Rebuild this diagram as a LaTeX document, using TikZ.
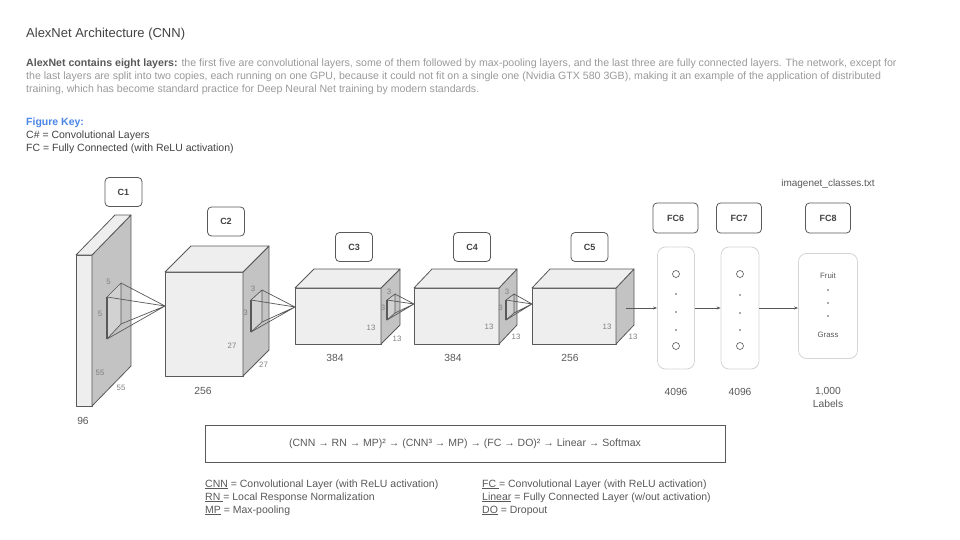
\documentclass[tikz,border=0pt]{standalone}
\usepackage{fontspec}
\setmainfont{Liberation Sans}
\usetikzlibrary{arrows.meta}
\definecolor{ink}{HTML}{434343}
\definecolor{edge}{HTML}{595959}
\definecolor{faint}{HTML}{9A9A9A}
\definecolor{keyblue}{HTML}{4A86E8}
\definecolor{face}{HTML}{EEEEEE}
\definecolor{side}{HTML}{C3C3C3}
\definecolor{rim}{HTML}{D5D5D5}
\begin{document}
\begin{tikzpicture}[x=1pt,y=-1pt,
  txt/.style={inner sep=0pt, anchor=base west, text=ink, font=\fontsize{10.5}{13}\selectfont},
  layerbox/.style={draw=edge, line width=0.8pt, rounded corners=4pt, minimum width=37pt, minimum height=29pt, inner sep=0pt, text=ink, font=\bfseries\fontsize{9}{10}\selectfont},
  fcbox/.style={layerbox, minimum width=45pt, minimum height=30pt},
  column/.style={draw=rim, line width=0.8pt, rounded corners=8pt, inner sep=0pt},
  blk/.style={draw=edge, line width=0.8pt, line join=round},
  kern/.style={draw=edge, line width=0.7pt, line join=round},
  dim/.style={inner sep=0pt, text=gray, font=\fontsize{7.8}{8}\selectfont},
  count/.style={inner sep=0pt, text=edge, font=\fontsize{10.3}{13}\selectfont, align=center},
  unit/.style={circle, draw=edge, line width=0.6pt, minimum size=7pt, inner sep=0pt},
  dot/.style={circle, fill=edge, minimum size=1.6pt, inner sep=0pt},
  arr/.style={draw=edge, line width=0.7pt, -{Stealth[length=4pt,width=3pt]}}
]
\useasboundingbox (0,0) rectangle (960,540);
\fill[white] (0,0) rectangle (960,540);

% header text
\node[txt, font=\fontsize{13}{15}\selectfont] (title) at (26,38) {AlexNet Architecture (CNN)};
\node[txt, text=faint, anchor=north west, align=left, font=\fontsize{10.6}{13}\selectfont] (intro) at (26,59) {\textcolor{edge}{\bfseries AlexNet contains eight layers:} the first five are convolutional layers, some of them followed by max-pooling layers, and the last three are fully connected layers. The network, except for\\
the last layers are split into two copies, each running on one GPU, because it could not fit on a single one (Nvidia GTX 580 3GB), making it an example of the application of distributed\\
training, which has become standard practice for Deep Neural Net training by modern standards.};
\node[txt, text=keyblue, font=\bfseries\fontsize{10.5}{13}\selectfont] (keyhead) at (26,126) {Figure Key:};
\node[txt] (key1) at (26,139) {C\# = Convolutional Layers};
\node[txt] (key2) at (26,152) {FC = Fully Connected (with ReLU activation)};

% layer tags
\node[layerbox] (c1) at (123.5,192) {C1};
\node[layerbox] (c2) at (226,221.5) {C2};
\node[layerbox] (c3) at (354,247) {C3};
\node[layerbox] (c4) at (472,247) {C4};
\node[layerbox] (c5) at (589.5,247) {C5};
\node[fcbox] (fc6) at (675.5,218) {FC6};
\node[fcbox] (fc7) at (739,218) {FC7};
\node[fcbox] (fc8) at (828,218) {FC8};

% C1 slab
\draw[blk, fill=face] (76,255) rectangle (92,406);
\draw[blk, fill=side] (92,255) -- (131,215) -- (131,366) -- (92,406) -- cycle;
\draw[blk, fill=face] (76,255) -- (115,215) -- (131,215) -- (92,255) -- cycle;
% C2 block
\draw[blk, fill=face] (165,272) rectangle (243,376);
\draw[blk, fill=side] (243,272) -- (269,246) -- (269,350) -- (243,376) -- cycle;
\draw[blk, fill=face] (165,272) -- (191,246) -- (269,246) -- (243,272) -- cycle;
% C3 block
\draw[blk, fill=face] (295,288) rectangle (381,344);
\draw[blk, fill=side] (381,288) -- (400,269) -- (400,325) -- (381,344) -- cycle;
\draw[blk, fill=face] (295,288) -- (314,269) -- (400,269) -- (381,288) -- cycle;
% C4 block
\draw[blk, fill=face] (414,288) rectangle (499,344);
\draw[blk, fill=side] (499,288) -- (517,269) -- (517,325) -- (499,344) -- cycle;
\draw[blk, fill=face] (414,288) -- (432,269) -- (517,269) -- (499,288) -- cycle;
% C5 block
\draw[blk, fill=face] (532,288) rectangle (616,344);
\draw[blk, fill=side] (616,288) -- (634,269) -- (634,325) -- (616,344) -- cycle;
\draw[blk, fill=face] (532,288) -- (550,269) -- (634,269) -- (616,288) -- cycle;

% kernels
\coordinate (a1) at (165,306);
\draw[kern, fill=white, fill opacity=0.25] (107,297) -- (121,283) -- (121,324) -- (107,339) -- cycle;
\draw[kern, line width=1.2pt] (107,297) -- (107,339);
\draw[kern] (107,297) -- (a1) (121,283) -- (a1) (121,324) -- (a1) (107,339) -- (a1);
\coordinate (a2) at (295,307);
\draw[kern, fill=white, fill opacity=0.25] (251,300) -- (262,290) -- (262,322) -- (251,332) -- cycle;
\draw[kern, line width=1.2pt] (251,300) -- (251,332);
\draw[kern] (251,300) -- (a2) (262,290) -- (a2) (262,322) -- (a2) (251,332) -- (a2);
\coordinate (a3) at (414,304);
\draw[kern, fill=white, fill opacity=0.25] (387,300) -- (395,294) -- (395,313) -- (387,320) -- cycle;
\draw[kern, line width=1.2pt] (387,300) -- (387,320);
\draw[kern] (387,300) -- (a3) (395,294) -- (a3) (395,313) -- (a3) (387,320) -- (a3);
\coordinate (a4) at (532,304);
\draw[kern, fill=white, fill opacity=0.25] (506,300) -- (514,294) -- (514,313) -- (506,320) -- cycle;
\draw[kern, line width=1.2pt] (506,300) -- (506,320);
\draw[kern] (506,300) -- (a4) (514,294) -- (a4) (514,313) -- (a4) (506,320) -- (a4);

% sizes
\node[dim] at (108.5,282) {5};
\node[dim] at (100,314) {5};
\node[dim] at (100,373) {55};
\node[dim] at (121,388) {55};
\node[dim] at (253,289) {3};
\node[dim] at (245.5,313) {3};
\node[dim] at (232,346) {27};
\node[dim] at (263.5,365) {27};
\node[dim] at (389,292) {3};
\node[dim] at (383,308) {3};
\node[dim] at (371,328) {13};
\node[dim] at (397,339) {13};
\node[dim] at (507,292) {3};
\node[dim] at (500.5,308) {3};
\node[dim] at (489,327) {13};
\node[dim] at (516,337) {13};
\node[dim] at (607,327) {13};
\node[dim] at (633,337) {13};

\node[count] (n1) at (83,421) {96};
\node[count] (n2) at (203,391) {256};
\node[count] (n3) at (335,358) {384};
\node[count] (n4) at (453,358) {384};
\node[count] (n5) at (570,358) {256};

% fully connected columns
\node[column, minimum width=37pt, minimum height=122pt] (col6) at (676,308) {};
\node[column, minimum width=38pt, minimum height=122pt] (col7) at (740,308) {};
\node[column, minimum width=59pt, minimum height=105pt] (col8) at (828,306) {};
\node[unit] at (676,274) {};
\node[dot] at (676,294) {};
\node[dot] at (676,312) {};
\node[dot] at (676,330) {};
\node[unit] at (676,346) {};
\node[unit] at (740,274) {};
\node[dot] at (740,295) {};
\node[dot] at (740,313) {};
\node[dot] at (740,330) {};
\node[unit] at (740,346) {};
\node[dim, text=edge] (fruit) at (828,276) {Fruit};
\node[dot] at (828,290) {};
\node[dot] at (828,303) {};
\node[dot] at (828,316) {};
\node[dim, text=edge] (grass) at (828,335) {Grass};
\node[count] (n6) at (676,392) {4096};
\node[count] (n7) at (740,392) {4096};
\node[count] (n8) at (828,397) {1,000\\Labels};
\node[count, font=\fontsize{10}{12}\selectfont] (classes) at (828,184) {imagenet\_classes.txt};

\coordinate (c5out) at (626,308);
\draw[arr] (c5out) -- (c5out -| col6.west);
\draw[arr] (col6.east |- c5out) -- (c5out -| col7.west);
\draw[arr] (col7.east |- c5out) -- (c5out -| col8.west);

% layer sequence
\node[draw=edge, line width=0.8pt, minimum width=520pt, minimum height=37pt, text=edge, font=\fontsize{10.5}{12}\selectfont] (chain) at (465,443.5) {(CNN → RN → MP)² → (CNN³ → MP) → (FC → DO)² → Linear → Softmax};

% abbreviations
\node[txt, text=edge] (l1) at (205,487) {\underline{CNN} = Convolutional Layer (with ReLU activation)};
\node[txt, text=edge] (l2) at (205,500) {\underline{RN\ }= Local Response Normalization};
\node[txt, text=edge] (l3) at (205,513) {\underline{MP} = Max-pooling};
\node[txt, text=edge] (r1) at (482,487) {\underline{FC\ }= Convolutional Layer (with ReLU activation)};
\node[txt, text=edge] (r2) at (482,500) {\underline{Linear} = Fully Connected Layer (w/out activation)};
\node[txt, text=edge] (r3) at (482,513) {\underline{DO} = Dropout};
\end{tikzpicture}
\end{document}
